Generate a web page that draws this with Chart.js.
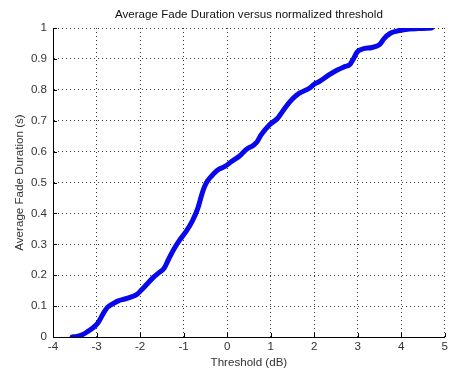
<!DOCTYPE html>
<html>
<head>
<meta charset="utf-8">
<title>Average Fade Duration versus normalized threshold</title>
<script src="https://cdn.jsdelivr.net/npm/chart.js@4/dist/chart.umd.min.js"></script>
<style>
  html, body { margin: 0; padding: 0; background: #ffffff; }
  #wrap { width: 451px; height: 377px; }
</style>
</head>
<body>
<div id="wrap"><canvas id="afd" width="451" height="377"></canvas></div>
<script>
// Normalized threshold (dB) and the measured average fade duration (s)
const thresholdDb = [
  -3.56, -3.45, -3.33, -3.20, -3.08, -2.97, -2.85, -2.75, -2.62, -2.50,
  -2.35, -2.20, -2.08, -1.97, -1.85, -1.70, -1.55, -1.45, -1.35, -1.24,
  -1.10, -0.95, -0.80, -0.67, -0.58, -0.52, -0.45, -0.35, -0.20, -0.05,
   0.10,  0.28,  0.44,  0.60,  0.68,  0.78,  0.97,  1.16,  1.35,  1.50,
   1.66,  1.89,  2.00,  2.11,  2.34,  2.53,  2.70,  2.82,  2.90,  2.99,
   3.11,  3.33,  3.50,  3.60,  3.75,  3.90,  4.10,  4.40,  4.70
];
const fadeDuration = [
  0.000, 0.002, 0.007, 0.018, 0.030, 0.045, 0.075, 0.096, 0.108, 0.117,
  0.123, 0.130, 0.137, 0.152, 0.170, 0.192, 0.210, 0.222, 0.250, 0.280,
  0.312, 0.340, 0.375, 0.418, 0.462, 0.486, 0.505, 0.522, 0.542, 0.552,
  0.568, 0.585, 0.607, 0.620, 0.630, 0.654, 0.686, 0.708, 0.745, 0.770,
  0.789, 0.805, 0.818, 0.826, 0.848, 0.864, 0.875, 0.882, 0.900, 0.923,
  0.932, 0.937, 0.946, 0.965, 0.983, 0.990, 0.995, 0.998, 1.000
];

// Axis tick values and their labels
const xTickValues = [-4, -3, -2, -1, 0, 1, 2, 3, 4, 5];
const xTickLabels = ['-4', '-3', '-2', '-1', '0', '1', '2', '3', '4', '5'];
const yTickValues = [0, 0.1, 0.2, 0.3, 0.4, 0.5, 0.6, 0.7, 0.8, 0.9, 1];
const yTickLabels = ['0', '0.1', '0.2', '0.3', '0.4', '0.5', '0.6', '0.7', '0.8', '0.9', '1'];

const chartTitle = 'Average Fade Duration versus normalized threshold';

const FONT = 'Liberation Sans, Arial, sans-serif';
const FONT_SIZE = 11.6;
const LABEL_COLOR = '#333333';

// Title centred over the plotting area rather than the whole canvas
const plotTitle = {
  id: 'plotTitle',
  afterDraw(chart) {
    const { ctx, chartArea: a } = chart;
    ctx.save();
    ctx.fillStyle = '#111111';
    ctx.font = FONT_SIZE + 'px ' + FONT;
    ctx.textAlign = 'center';
    ctx.textBaseline = 'middle';
    ctx.fillText(chartTitle, (a.left + a.right) / 2, a.top - 13.5);
    ctx.restore();
  }
};

// Small inward tick marks on the left and bottom axes
const inwardTicks = {
  id: 'inwardTicks',
  afterDatasetsDraw(chart) {
    const { ctx, chartArea: a, scales: { x, y } } = chart;
    const len = 4;
    ctx.save();
    ctx.strokeStyle = '#000000';
    ctx.lineWidth = 1;
    ctx.beginPath();
    xTickValues.forEach(v => {
      const px = Math.round(x.getPixelForValue(v)) + 0.5;
      ctx.moveTo(px, a.bottom);
      ctx.lineTo(px, a.bottom - len);
    });
    yTickValues.forEach(v => {
      const py = Math.round(y.getPixelForValue(v)) + 0.5;
      ctx.moveTo(a.left, py);
      ctx.lineTo(a.left + len, py);
    });
    ctx.stroke();
    ctx.restore();
  }
};

new Chart(document.getElementById('afd'), {
  type: 'line',
  data: {
    datasets: [{
      data: thresholdDb.map((t, i) => ({ x: t, y: fadeDuration[i] })),
      borderColor: 'rgb(8, 8, 235)',
      borderWidth: 5,
      pointRadius: 0,
      fill: false,
      cubicInterpolationMode: 'monotone',
      borderCapStyle: 'round',
      borderJoinStyle: 'round'
    }]
  },
  options: {
    responsive: false,
    animation: false,
    layout: { padding: { left: 0, right: 5, top: 28, bottom: 0 } },
    plugins: {
      legend: { display: false },
      tooltip: { enabled: false },
      title: { display: false }
    },
    scales: {
      x: {
        type: 'linear',
        min: -4,
        max: 5,
        afterBuildTicks: s => { s.ticks = xTickValues.map(v => ({ value: v })); },
        afterFit: s => { s.height = 40; },
        ticks: {
          color: LABEL_COLOR,
          font: { family: FONT, size: FONT_SIZE },
          padding: 3,
          maxRotation: 0,
          callback: (v, i) => xTickLabels[i]
        },
        grid: { color: '#3a3a3a', lineWidth: 1, drawTicks: false },
        border: { display: true, color: '#000000', width: 1, dash: [1, 3] },
        title: {
          display: true,
          text: 'Threshold (dB)',
          color: LABEL_COLOR,
          font: { family: FONT, size: FONT_SIZE },
          padding: { top: 0, bottom: 7 }
        }
      },
      y: {
        type: 'linear',
        min: 0,
        max: 1,
        afterBuildTicks: s => { s.ticks = yTickValues.map(v => ({ value: v })); },
        afterFit: s => { s.width = 53; },
        ticks: {
          color: LABEL_COLOR,
          font: { family: FONT, size: FONT_SIZE },
          padding: 6,
          callback: (v, i) => yTickLabels[i]
        },
        grid: { color: '#3a3a3a', lineWidth: 1, drawTicks: false },
        border: { display: true, color: '#000000', width: 1, dash: [1, 3] },
        title: {
          display: true,
          text: 'Average Fade Duration (s)',
          color: LABEL_COLOR,
          font: { family: FONT, size: FONT_SIZE },
          padding: { top: 13, bottom: 0 }
        }
      }
    }
  },
  plugins: [inwardTicks, plotTitle]
});
</script>
</body>
</html>
